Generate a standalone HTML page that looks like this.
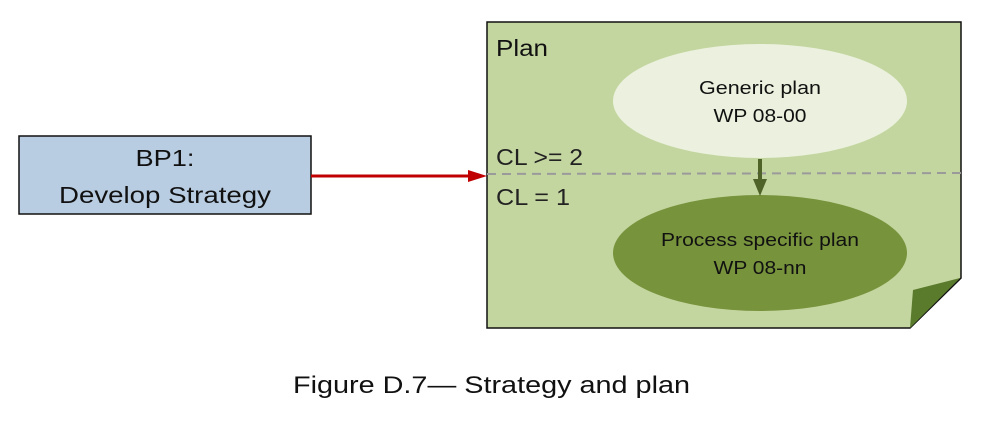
<!DOCTYPE html>
<html><head><meta charset="utf-8"><style>html,body{margin:0;padding:0;background:#fff;}svg{display:block}</style></head>
<body>
<svg width="989" height="421" viewBox="0 0 989 421" xmlns="http://www.w3.org/2000/svg" font-family="'Liberation Sans', sans-serif">
<polygon points="487,22 961,22 961,278 910,328 487,328" fill="#c4d6a0" stroke="#111" stroke-width="1.5"/>
<polygon points="913,290 960,278 910,328" fill="#5a7a2c"/>
<line x1="487" y1="174" x2="961" y2="173" stroke="#9a9a9a" stroke-width="2" stroke-dasharray="9,6"/>
<ellipse cx="760" cy="101" rx="147" ry="57" fill="#ebf1de"/>
<ellipse cx="760" cy="253" rx="147" ry="58" fill="#77933c"/>
<line x1="760" y1="159" x2="760" y2="180" stroke="#4f6228" stroke-width="4"/>
<polygon points="753,179 767,179 760,196" fill="#4f6228"/>
<text x="496" y="56" font-size="23" fill="#111" textLength="52" lengthAdjust="spacingAndGlyphs">Plan</text>
<text x="496" y="165" font-size="23" fill="#222" textLength="87" lengthAdjust="spacingAndGlyphs">CL &gt;= 2</text>
<text x="496" y="205" font-size="23" fill="#222" textLength="74" lengthAdjust="spacingAndGlyphs">CL = 1</text>
<text x="760" y="94" font-size="18" fill="#111" text-anchor="middle" textLength="122" lengthAdjust="spacingAndGlyphs">Generic plan</text>
<text x="760" y="122" font-size="18" fill="#111" text-anchor="middle" textLength="93" lengthAdjust="spacingAndGlyphs">WP 08-00</text>
<text x="760" y="246" font-size="18" fill="#111" text-anchor="middle" textLength="198" lengthAdjust="spacingAndGlyphs">Process specific plan</text>
<text x="760" y="274" font-size="18" fill="#111" text-anchor="middle" textLength="93" lengthAdjust="spacingAndGlyphs">WP 08-nn</text>
<rect x="19" y="136" width="292" height="78" fill="#b9cde2" stroke="#111" stroke-width="1.5"/>
<text x="165" y="166" font-size="23" fill="#111" text-anchor="middle" textLength="59" lengthAdjust="spacingAndGlyphs">BP1:</text>
<text x="165" y="203" font-size="23" fill="#111" text-anchor="middle" textLength="212" lengthAdjust="spacingAndGlyphs">Develop Strategy</text>
<line x1="311" y1="176" x2="470" y2="176" stroke="#c00000" stroke-width="3"/>
<polygon points="468,170 487,176 468,182" fill="#c00000"/>
<text x="293" y="393" font-size="24" fill="#111" textLength="397" lengthAdjust="spacingAndGlyphs">Figure D.7— Strategy and plan</text>
</svg>
</body></html>
